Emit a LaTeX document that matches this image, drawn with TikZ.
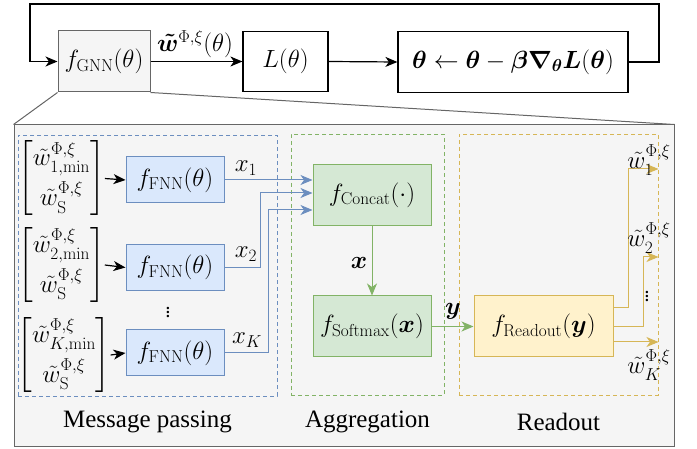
\documentclass[tikz,border=0pt]{standalone}
\usepackage{amsmath,amssymb,bm}
\usepackage[no-math]{fontspec}
\setmainfont{Liberation Serif}
\usetikzlibrary{arrows.meta}
\definecolor{bggray}{HTML}{F5F5F5}
\definecolor{edgegray}{HTML}{666666}
\definecolor{bfill}{HTML}{DAE8FC}
\definecolor{bline}{HTML}{6C8EBF}
\definecolor{gfill}{HTML}{D5E8D4}
\definecolor{gline}{HTML}{82B366}
\definecolor{yfill}{HTML}{FFF2CC}
\definecolor{yline}{HTML}{D6B656}
\tikzset{
  tip/.style={-{Stealth[length=12pt,width=10pt,inset=3.5pt]}},
  box/.style={draw, inner sep=0pt, anchor=center},
  topbox/.style={box, draw=black, fill=white, line width=1.2pt},
  bluebox/.style={box, draw=bline, fill=bfill, line width=1pt, minimum width=98pt, minimum height=46pt},
  greenbox/.style={box, draw=gline, fill=gfill, line width=1pt, minimum width=118pt, minimum height=61pt},
  yellowbox/.style={box, draw=yline, fill=yfill, line width=1pt, minimum width=139pt, minimum height=61pt},
  group/.style={box, dash pattern=on 4pt off 3pt, line width=0.9pt},
  lbl/.style={inner sep=0pt, anchor=center},
  sect/.style={inner sep=0pt, anchor=center, font=\fontsize{25}{30}\selectfont},
  bluearr/.style={tip, draw=bline, line width=1pt},
  greenarr/.style={tip, draw=gline, line width=1pt},
  yellowarr/.style={tip, draw=yline, line width=1pt},
  blackarr/.style={tip, draw=black, line width=1.2pt},
}
\newcommand{\wmat}[1]{\begin{bmatrix}\tilde{w}^{\Phi,\xi}_{#1,\mathrm{min}}\\[7pt] \tilde{w}^{\Phi,\xi}_{\mathrm{S}}\end{bmatrix}}
\begin{document}
\begin{tikzpicture}[x=1pt,y=-1pt, font=\fontsize{25}{30}\selectfont]
\useasboundingbox (0,0) rectangle (697,449);

% top row
\node[topbox, draw=edgegray, fill=bggray, line width=1pt, minimum width=92pt, minimum height=61pt] (gnn) at (104,61.5) {$f_{\mathrm{GNN}}(\theta)$};
\node[topbox, minimum width=85pt, minimum height=60pt] (loss) at (285.5,61.5) {$L(\theta)$};
\node[topbox, minimum width=230pt, minimum height=61pt, font=\fontsize{23.5}{28}\selectfont] (upd) at (513,62) {$\bm{\theta}\leftarrow\bm{\theta}-\bm{\beta}\bm{\nabla}_{\bm{\theta}}\bm{L}(\bm{\theta})$};
\node[lbl] (wl) at (195,44) {$\bm{\tilde{w}}^{\Phi,\xi}(\theta)$};

\draw[blackarr] (gnn.east) -- (loss.west);
\draw[blackarr] (loss.east) -- (upd.west);
\draw[blackarr] (upd.east) -- (659,62) -- (659,4) -- (30,4) |- (gnn.west);

% big box
\node[box, draw=edgegray, fill=bggray, line width=1pt, minimum width=660pt, minimum height=321pt] (big) at (344,285.5) {};
\draw[edgegray, line width=1pt] (gnn.south west) -- (big.north west);
\draw[edgegray, line width=1pt] (gnn.south east) -- (big.north east);

% groups
\node[group, draw=bline, minimum width=259pt, minimum height=261pt] (mp) at (147.5,265.5) {};
\node[group, draw=gline, minimum width=153pt, minimum height=261pt] (ag) at (367.5,264.5) {};
\node[group, draw=yline, minimum width=199pt, minimum height=261pt] (ro) at (558.5,264.5) {};

\node[sect] (mpt) at (147.5,422) {Message passing};
\node[sect] (agt) at (367.5,422) {Aggregation};
\node[sect] (rot) at (558.5,422) {Readout};

% inputs
\node[lbl] (m1) at (61.5,178.5) {$\wmat{1}$};
\node[lbl] (m2) at (61.5,265) {$\wmat{2}$};
\node[lbl] (m3) at (64,355) {$\wmat{K}$};

\node[bluebox] (f1) at (175,180) {$f_{\mathrm{FNN}}(\theta)$};
\node[bluebox] (f2) at (175,267.5) {$f_{\mathrm{FNN}}(\theta)$};
\node[bluebox] (f3) at (175,353) {$f_{\mathrm{FNN}}(\theta)$};
\node[lbl, font=\fontsize{15}{16}\selectfont] (vd) at (168,309) {$\bm{\vdots}$};

\draw[blackarr] (m1.east) -- (f1.west);
\draw[blackarr] (m2.east) -- (f2.west);
\draw[blackarr] (m3.east) -- (f3.west);

% aggregation
\node[greenbox] (cc) at (372,195) {$f_{\mathrm{Concat}}(\cdot)$};
\node[greenbox] (sm) at (372,326.5) {$f_{\mathrm{Softmax}}(\bm{x})$};
\node[yellowbox] (rd) at (543.5,326.5) {$f_{\mathrm{Readout}}(\bm{y})$};

\draw[bluearr] (f1.east) -- (f1.east -| cc.west);
\draw[bluearr] (f2.east) -| (260,193) -- (cc.west |- 260,193);
\draw[bluearr] (f3.east) -| (268,210) -- (cc.west |- 268,210);
\node[lbl] (x1) at (246,168) {$x_1$};
\node[lbl] (x2) at (246,254) {$x_2$};
\node[lbl] (xk) at (247,340) {$x_K$};

\draw[greenarr] (cc.south) -- (sm.north);
\node[lbl] (xl) at (359,263) {$\bm{x}$};
\draw[greenarr] (sm.east) -- (rd.west);
\node[lbl] (yl) at (453,311) {$\bm{y}$};

% readout outputs
\draw[yellowarr] (rd.east |- 0,308) -| (628,169) -- (ro.east |- 0,169);
\draw[yellowarr] (rd.east |- 0,327) -| (643,257) -- (ro.east |- 0,257);
\draw[yellowarr] (rd.east |- 0,342) -- (ro.east |- 0,342);
\node[lbl] (o1) at (649,160) {$\tilde{w}^{\Phi,\xi}_{1}$};
\node[lbl] (o2) at (649,238) {$\tilde{w}^{\Phi,\xi}_{2}$};
\node[lbl] (ok) at (649,365) {$\tilde{w}^{\Phi,\xi}_{K}$};
\node[lbl, font=\fontsize{15}{16}\selectfont] (vd2) at (647,293) {$\bm{\vdots}$};
\end{tikzpicture}
\end{document}
